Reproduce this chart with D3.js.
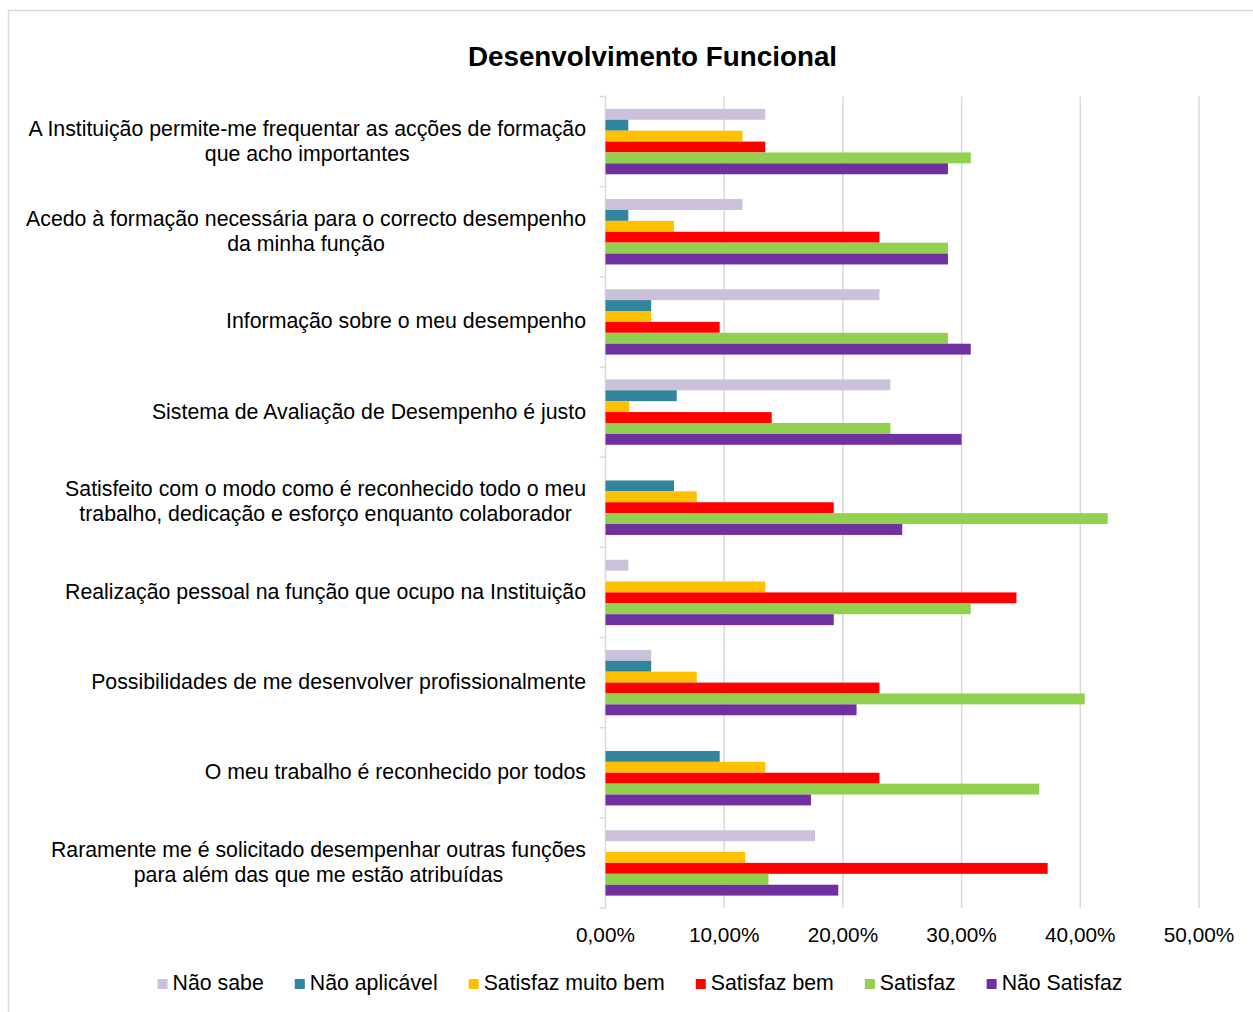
<!DOCTYPE html>
<html>
<head>
<meta charset="utf-8">
<script src="https://cdn.jsdelivr.net/npm/d3@7"></script>
<style>
  html, body { margin: 0; padding: 0; background: #fff; }
  svg { display: block; font-family: "Liberation Sans", Arial, sans-serif; }
</style>
</head>
<body>
<svg id="chart" width="1253" height="1012"></svg>
<script>
// Questions (top to bottom); "\n" marks a line break in the label
const categories = [
  "A Instituição permite-me frequentar as acções de formação\nque acho importantes",
  "Acedo à formação necessária para o correcto desempenho\nda minha função",
  "Informação sobre o meu desempenho",
  "Sistema de Avaliação de Desempenho é justo",
  "Satisfeito com o modo como é reconhecido todo o meu\ntrabalho, dedicação e esforço enquanto colaborador",
  "Realização pessoal na função que ocupo na Instituição",
  "Possibilidades de me desenvolver profissionalmente",
  "O meu trabalho é reconhecido por todos",
  "Raramente me é solicitado desempenhar outras funções\npara além das que me estão atribuídas"
];

const seriesNames = ["Não sabe", "Não aplicável", "Satisfaz muito bem", "Satisfaz bem", "Satisfaz", "Não Satisfaz"];
const seriesColors = ["#CCC1DA", "#31859C", "#FFC000", "#FF0000", "#92D050", "#7030A0"];

// Percentages per answer, one value per question (same order as categories)
const naoSabe       = [13.46, 11.54, 23.08, 24, 0,     1.92,  3.85,  0,     17.65];
const naoAplicavel  = [1.92,  1.92,  3.85,  6,  5.77,  0,     3.85,  9.62,  0];
const satMuitoBem   = [11.54, 5.77,  3.85,  2,  7.69,  13.46, 7.69,  13.46, 11.76];
const satBem        = [13.46, 23.08, 9.62,  14, 19.23, 34.62, 23.08, 23.08, 37.25];
const satisfaz      = [30.77, 28.85, 28.85, 24, 42.31, 30.77, 40.38, 36.54, 13.73];
const naoSatisfaz   = [28.85, 28.85, 30.77, 30, 25,    19.23, 21.15, 17.31, 19.61];

const seriesValues = [naoSabe, naoAplicavel, satMuitoBem, satBem, satisfaz, naoSatisfaz];
const xTicks = [0, 10, 20, 30, 40, 50];

const svg = d3.select("#chart");
const W = 1253, H = 1012;
const plot = { left: 605.5, right: 1199, top: 96.5, bottom: 908 };
const gridColor = "#d9d9d9";
const labelSize = 21.3;

// outer frame
svg.append("rect")
  .attr("x", 8.5).attr("y", 10.5)
  .attr("width", W + 20).attr("height", H + 20)
  .attr("fill", "#fff").attr("stroke", gridColor).attr("stroke-width", 1.5);

// title
svg.append("text")
  .attr("x", 652.5).attr("y", 65.5)
  .attr("text-anchor", "middle")
  .attr("font-size", 27.8).attr("font-weight", "bold").attr("fill", "#000")
  .text("Desenvolvimento Funcional");

const x = d3.scaleLinear().domain([0, 50]).range([plot.left, plot.right]);

const y = d3.scaleBand()
  .domain(d3.range(categories.length))
  .range([plot.top, plot.bottom])
  .paddingInner(0.275)
  .paddingOuter(0.1375);

const ySub = d3.scaleBand()
  .domain(d3.range(seriesNames.length))
  .range([0, y.bandwidth()]);

const step = y.step();
const bandStart = i => plot.top + i * step;

// vertical gridlines
svg.append("g").selectAll("line")
  .data(xTicks.slice(1))
  .join("line")
  .attr("x1", d => x(d)).attr("x2", d => x(d))
  .attr("y1", plot.top).attr("y2", plot.bottom)
  .attr("stroke", gridColor).attr("stroke-width", 1.5);

// category axis with ticks at band boundaries
const axisG = svg.append("g");
axisG.append("line")
  .attr("x1", plot.left).attr("x2", plot.left)
  .attr("y1", plot.top).attr("y2", plot.bottom)
  .attr("stroke", gridColor).attr("stroke-width", 1.5);
axisG.selectAll("line.tick")
  .data(d3.range(categories.length + 1))
  .join("line")
  .attr("class", "tick")
  .attr("x1", plot.left - 6).attr("x2", plot.left)
  .attr("y1", d => bandStart(d)).attr("y2", d => bandStart(d))
  .attr("stroke", gridColor).attr("stroke-width", 1.5);

// bars
const groups = svg.append("g").selectAll("g")
  .data(categories.map((c, i) => i))
  .join("g")
  .attr("transform", i => `translate(0,${y(i)})`);

groups.selectAll("rect")
  .data(i => seriesValues.map((vals, s) => ({ s, v: vals[i] })).filter(d => d.v > 0))
  .join("rect")
  .attr("x", x(0))
  .attr("y", d => ySub(d.s))
  .attr("width", d => x(d.v) - x(0))
  .attr("height", ySub.bandwidth())
  .attr("fill", d => seriesColors[d.s]);

// category labels
const labelX = 586;
const lineH = 25;
svg.append("g").selectAll("text")
  .data(categories)
  .join("text")
  .attr("text-anchor", "middle")
  .attr("font-size", labelSize)
  .attr("fill", "#000")
  .each(function (d, i) {
    const lines = d.split("\n");
    const cy = bandStart(i) + step / 2;
    const t = d3.select(this);
    lines.forEach((ln, k) => {
      t.append("tspan")
        .attr("y", cy + (k - (lines.length - 1) / 2) * lineH + 6.5)
        .text(ln);
    });
  })
  .each(function () {
    // right-align the block, centre each line within it
    const tspans = d3.select(this).selectAll("tspan").nodes();
    const widths = tspans.map(n => n.getComputedTextLength());
    const maxW = d3.max(widths);
    tspans.forEach(n => d3.select(n).attr("x", labelX - maxW / 2));
  });

// x tick labels
svg.append("g").selectAll("text")
  .data(xTicks)
  .join("text")
  .attr("x", d => x(d))
  .attr("y", 942)
  .attr("text-anchor", "middle")
  .attr("font-size", 20.8)
  .attr("fill", "#000")
  .text(d => d3.format(".2f")(d).replace(".", ",") + "%");

// legend
const legend = svg.append("g");
const items = legend.selectAll("g")
  .data(seriesNames)
  .join("g");
items.append("rect")
  .attr("width", 10).attr("height", 10)
  .attr("y", -11)
  .attr("fill", (d, i) => seriesColors[i]);
items.append("text")
  .attr("x", 15).attr("y", 0)
  .attr("font-size", labelSize)
  .attr("fill", "#000")
  .text(d => d);
let cursor = 0;
items.each(function () {
  const w = d3.select(this).select("text").node().getComputedTextLength();
  d3.select(this).attr("transform", `translate(${cursor},0)`);
  cursor += 15 + w + 31;
});
const legendW = cursor - 31;
legend.attr("transform", `translate(${640 - legendW / 2},990)`);
</script>
</body>
</html>
